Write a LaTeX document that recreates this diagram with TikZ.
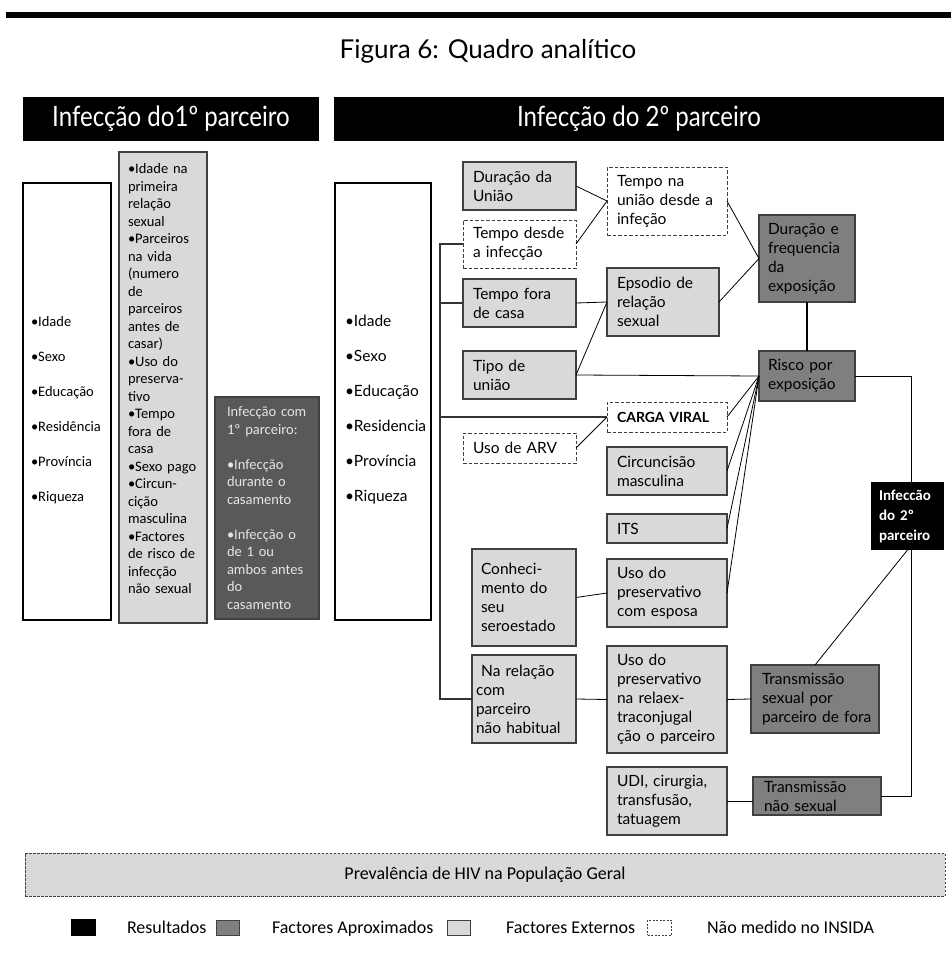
\documentclass[tikz,border=0pt]{standalone}
\usepackage{fontspec}
\usepackage{graphicx}
\setmainfont{Carlito}
\newfontfamily\lat{Lato}
\hyphenpenalty=10000
\exhyphenpenalty=10000
\definecolor{lg}{HTML}{D9D9D9}
\definecolor{dg}{HTML}{7F7F7F}
\definecolor{vdg}{HTML}{595959}
\definecolor{bd}{HTML}{404040}
\tikzset{
  every node/.style={inner sep=0pt, outer sep=0pt},
  rfont/.style={font=\lat\fontsize{15.5}{19}\selectfont},
  lfont/.style={font=\fontsize{14.5}{17.5}\selectfont},
  lightbox/.style={draw=bd, fill=lg, line width=1.3pt},
  darkbox/.style={draw=bd, fill=dg, line width=1.3pt},
  dashbox/.style={draw=bd, fill=white, line width=1pt, dash pattern=on 3.5pt off 2pt},
  plainbox/.style={draw=black, fill=white, line width=1.1pt},
  conn/.style={draw=black, line width=0.8pt},
  brk/.style={draw=black!80, line width=1.1pt},
  hdr/.style={fill=black, text=white, font=\lat\fontsize{28}{30}\selectfont},
  legtext/.style={anchor=base west, font=\fontsize{18}{22}\selectfont},
}
\newcommand\mybox[8][10]{%
  \pgfmathsetmacro\mbw{#6-#4}%
  \pgfmathsetmacro\mbh{#7-#5}%
  \pgfmathsetmacro\mbx{(#4+#6)/2}%
  \pgfmathsetmacro\mby{(#5+#7)/2}%
  \pgfmathsetmacro\mbt{#6-#4-2*#1}%
  \node[#2, minimum width=\mbw pt, minimum height=\mbh pt, text width=\mbt pt, align=left] (#3) at (\mbx,\mby) {#8};%
}
\begin{document}
\begin{tikzpicture}[x=1pt,y=-1pt]
\useasboundingbox (0,0) rectangle (951,958);
\fill (6,12.5) rectangle (951,18.5);
\node[font=\lat\fontsize{26}{30}\selectfont] (title) at (488,51) {Figura 6: Quadro analítico};
\node[hdr, minimum width=296pt, minimum height=44pt] (h1) at (171,119) {\scalebox{0.86}[1]{Infecção do1º parceiro}};
\node[hdr, minimum width=610pt, minimum height=44pt] (h2) at (639,119) {\scalebox{0.86}[1]{Infecção do 2º parceiro}};

% left part
\mybox[8]{plainbox, font=\fontsize{14.5}{35}\selectfont}{lw}{23}{183}{111}{620}{\rule{0pt}{27pt}•Idade\\•Sexo\\•Educação\\•Residência\\•Província\\•Riqueza}
\mybox[9]{lightbox, lfont}{lgb}{119}{152}{207}{623}{•Idade~na\\primeira\\relação\\sexual\\•Parceiros\\na~vida\\(numero\\de\\parceiros\\antes~de\\casar)\\•Uso~do\\preserva-\\tivo\\•Tempo\\fora~de\\casa\\•Sexo~pago\\•Circun-\\cição\\masculina\\•Factores\\de~risco~de\\infecção\\não~sexual\\\mbox{}}
\mybox[12]{draw=bd, fill=vdg, line width=1.3pt, lfont, text=white!90!black}{ic1}{215}{397}{319}{619}{Infecção~com\\1º~parceiro:\\[17.5pt]•Infecção\\durante~o\\casamento\\[17.5pt]•Infecção~o\\de~1~ou\\ambos~antes\\do\\casamento}

% right part
\mybox[10]{plainbox, font=\lat\fontsize{15.5}{35}\selectfont}{rw}{335}{183}{431}{620}{\rule{0pt}{27pt}•Idade\\•Sexo\\•Educação\\•Residencia\\•Província\\•Riqueza}

\mybox{lightbox, rfont}{dur}{463}{162}{576}{210}{Duração~da\\União}
\mybox{dashbox, rfont}{tdi}{463}{220}{576}{268}{Tempo~desde\\a~infecção}
\mybox{lightbox, rfont}{tfc}{463}{279}{576}{327}{Tempo~fora\\de~casa}
\mybox{lightbox, rfont}{tip}{463}{351}{576}{399}{Tipo~de\\união}
\mybox{dashbox, rfont}{arv}{463}{433}{576}{463}{Uso~de~ARV}
\mybox[9]{lightbox, rfont}{con}{472}{549}{576}{646}{Conheci-\\mento~do\\seu\\seroestado}
\mybox[4]{lightbox, rfont}{nrel}{472}{655}{576}{743}{~Na~relação\\com\\parceiro\\não~habitual}

\mybox{dashbox, rfont}{tnu}{607}{167}{727}{235}{Tempo~na\\união~desde~a\\infeção}
\mybox{lightbox, rfont}{eps}{607}{268}{719}{336}{Epsodio~de\\relação\\sexual}
\mybox{dashbox, font=\lat\fontsize{14}{19}\selectfont\bfseries}{cv}{607}{402}{727}{432}{CARGA~VIRAL}
\mybox{lightbox, rfont}{cir}{607}{447}{727}{495}{Circuncisão\\masculina}
\mybox{lightbox, rfont}{its}{607}{514}{727}{543}{ITS}
\mybox{lightbox, rfont}{upe}{607}{559}{727}{627}{Uso~do\\preservativo\\com~esposa}
\mybox{lightbox, rfont}{upr}{607}{646}{727}{753}{Uso~do\\preservativo\\na~relaex-\\traconjugal\\ção~o~parceiro}
\mybox{lightbox, rfont}{udi}{607}{767}{727}{835}{UDI,~cirurgia,\\transfusão,\\tatuagem}

\mybox[9]{darkbox, rfont}{def}{759}{215}{855}{302}{Duração~e\\frequencia\\da\\exposição}
\mybox[9]{darkbox, rfont}{ris}{759}{351}{855}{401}{Risco~por\\exposição}
\mybox[11]{darkbox, rfont}{tsf}{751}{665}{879}{733}{Transmissão\\sexual~por\\parceiro~de~fora}
\mybox[11]{darkbox, rfont}{tns}{753}{777}{881}{815}{Transmissão\\não~sexual}

% bracket from the white box column
\coordinate (bx) at (440,0);
\draw[brk] (tdi.west) -- (tdi.west -| bx) -- (nrel.west -| bx) -- (nrel.west);
\draw[brk] (tfc.west -| bx) -- (tfc.west);
\draw[brk] (cv.west -| bx) -- (cv.west);

% connectors
\draw[conn] (dur.east) -- (tnu.west);
\draw[conn] (tdi.east) -- (tnu.west);
\draw[conn] (tfc.east) -- (eps.west);
\draw[conn] (tip.east) -- (eps.west);
\draw[conn] (tip.east) -- (ris.west);
\draw[conn] (tnu.east) -- (def.west);
\draw[conn] (eps.east) -- (def.west);
\draw[line width=2.6pt] (def.south) -- (ris.north);
\draw[conn] (arv.east) -- (cv.west);
\draw[conn] (cv.east) -- (ris.west);
\draw[conn] (cir.east) -- (ris.west);
\draw[conn] (its.east) -- (ris.west);
\draw[conn] (upe.east) -- (ris.west);
\draw[conn] (con.east) -- (upe.west);
\draw[conn] (nrel.east) -- (upr.west);
\draw[conn] (upr.east) -- (tsf.west);
\draw[conn] (udi.east) -- (udi.east -| tns.west);
\coordinate (rx) at (911,0);
\draw[conn] (ris.east) -- (ris.east -| rx) -- (tns.east -| rx) -- (tns.east);

\mybox[8]{fill=black, text=white, font=\bfseries\fontsize{15}{20}\selectfont}{inf}{871}{482}{944}{550}{Infeccão\\do~2º\\parceiro}
\draw[conn] (inf.south) -- (tsf.north);

% bottom
\node[draw=bd, fill=lg, dash pattern=on 2.5pt off 1.5pt, line width=1pt, minimum width=920pt, minimum height=43pt, font=\fontsize{18}{22}\selectfont] (prev) at (485,874.5) {Prevalência de HIV na População Geral};

% legend
\node[fill=black, minimum width=25pt, minimum height=17pt] (k1) at (83.5,927.5) {};
\node[legtext] (t1) at (127,933) {Resultados};
\node[darkbox, line width=1pt, minimum width=23pt, minimum height=15pt] (k2) at (227.5,927.5) {};
\node[legtext] (t2) at (272,933) {Factores Aproximados};
\node[lightbox, line width=1pt, minimum width=23pt, minimum height=15pt] (k3) at (458.5,927.5) {};
\node[legtext] (t3) at (506,933) {Factores Externos};
\node[dashbox, line width=0.9pt, dash pattern=on 2pt off 1.5pt, minimum width=24pt, minimum height=15pt] (k4) at (659.5,927.5) {};
\node[legtext] (t4) at (707,933) {Não medido no INSIDA};
\end{tikzpicture}
\end{document}
